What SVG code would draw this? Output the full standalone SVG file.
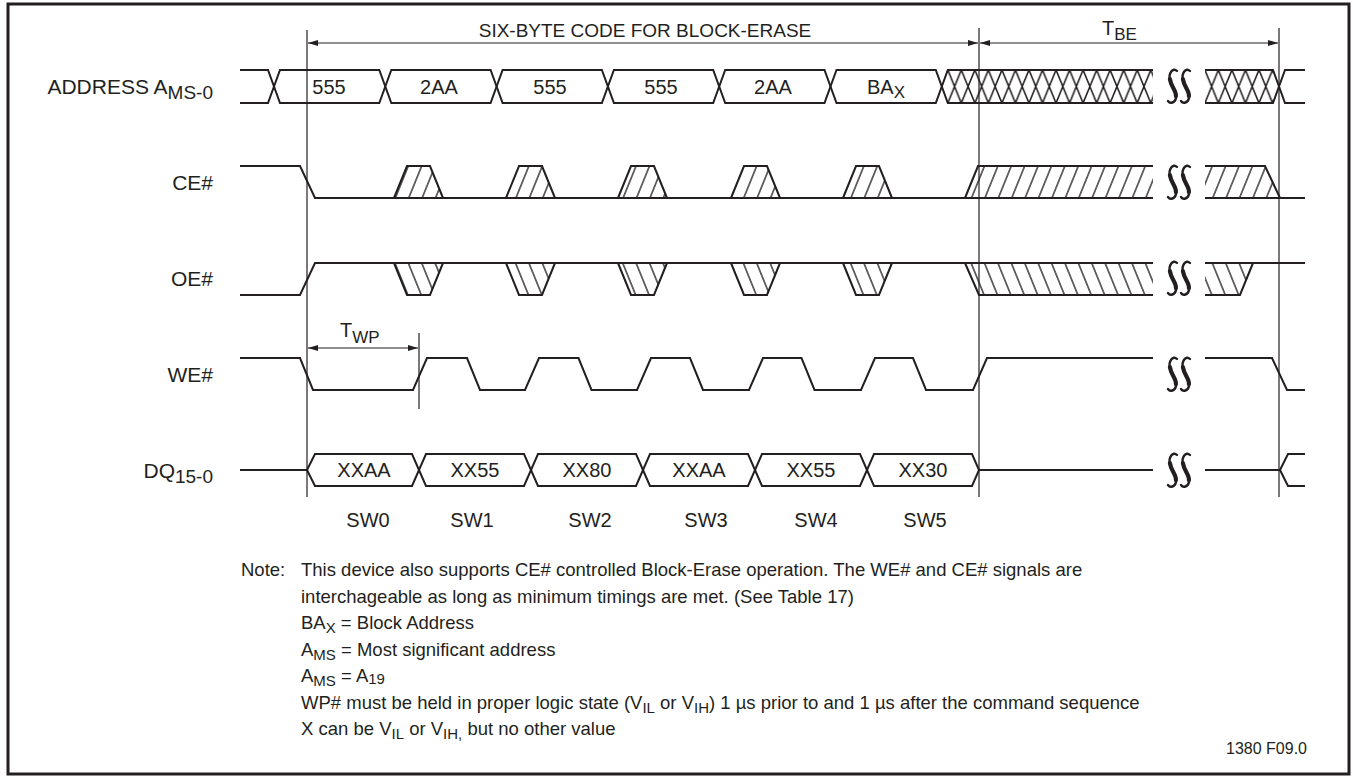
<svg xmlns="http://www.w3.org/2000/svg" xmlns:xlink="http://www.w3.org/1999/xlink" width="1353" height="776" viewBox="0 0 1353 776">
<style>
text { font-family: "Liberation Sans", Arial, Helvetica, sans-serif; fill: #231f20; }
.lbl { font-size: 21px; text-anchor: end; }
.val { font-size: 20px; text-anchor: middle; }
.ttl { font-size: 19px; text-anchor: middle; }
.note { font-size: 18.5px; }
.sub { font-size: 15px; }
.sig { fill: none; stroke: #231f20; stroke-width: 2; stroke-linejoin: miter; }
.ref { fill: none; stroke: #231f20; stroke-width: 1.2; }
.dim { fill: none; stroke: #231f20; stroke-width: 1.2; marker-start: url(#ah); marker-end: url(#ah); }
.brk { fill: none; stroke: #231f20; stroke-width: 2.4; stroke-linecap: round; }
.brkm { fill: none; stroke: #231f20; stroke-width: 4.2; stroke-linecap: round; }
.hf { fill: url(#hf); stroke: none; }
.hb { fill: url(#hb); stroke: none; }
.xx { fill: url(#xp); stroke: none; }
</style>
<defs>
  <marker id="ah" viewBox="0 0 10 6" refX="10" refY="3" markerWidth="10" markerHeight="6" markerUnits="userSpaceOnUse" orient="auto-start-reverse">
    <path d="M0,0 L10,3 L0,6 Z" fill="#231f20"/>
  </marker>
  <pattern id="hf" patternUnits="userSpaceOnUse" x="0" y="0" width="13.4" height="64" patternTransform="skewX(-22.1)">
    <rect x="6" y="0" width="1.4" height="64" fill="#231f20"/>
  </pattern>
  <pattern id="hb" patternUnits="userSpaceOnUse" x="0" y="0" width="13.4" height="64" patternTransform="skewX(22.1)">
    <rect x="6" y="0" width="1.4" height="64" fill="#231f20"/>
  </pattern>
  <pattern id="xp" patternUnits="userSpaceOnUse" x="947.8" y="70" width="13.53" height="33">
    <path d="M0,0 L13.53,33 M0,33 L13.53,0" stroke="#231f20" stroke-width="1.6" fill="none"/>
  </pattern>
  <g id="ss">
    <path class="brk" d="M-2.5,-15 C-6.5,-19 -11.5,-13 -9.5,-5 C-7.5,2 -2.5,6 -3.5,12 C-4.5,17 -9.5,18 -11.5,15"/>
    <path class="brkm" d="M-9.6,-7 C-8.5,1 -3,5 -3.6,10"/>
    <path class="brk" d="M10.5,-15 C6.5,-19 1.5,-13 3.5,-5 C5.5,2 10.5,6 9.5,12 C8.5,17 3.5,18 1.5,15"/>
    <path class="brkm" d="M3.4,-7 C4.5,1 10,5 9.4,10"/>
  </g>
</defs>

<rect x="8" y="4" width="1341" height="770" fill="#ffffff" stroke="#231f20" stroke-width="3"/>

<g id="title">
  <text class="ttl" x="645" y="37">SIX-BYTE CODE FOR BLOCK-ERASE</text>
  <text x="1102" y="35" style="font-size:20px">T<tspan dy="5" style="font-size:17px">BE</tspan></text>
</g>

<g id="sig-address">
  <text class="lbl" x="213" y="94">ADDRESS A<tspan dy="5" style="font-size:19px">MS-0</tspan></text>
  <rect class="xx" x="947.8" y="70" width="205.2" height="33"/>
  <rect class="xx" x="1205" y="70" width="68" height="33"/>
  <path class="sig" d="M240,70 H268 L280,103 H379.3 L391.3,70 H490.6 L502.6,103 H601.9 L613.9,70 H713.2 L725.2,103 H824.5 L836.5,70 H935.8 L947.8,103 H1153"/>
  <path class="sig" d="M240,103 H268 L280,70 H379.3 L391.3,103 H490.6 L502.6,70 H601.9 L613.9,103 H713.2 L725.2,70 H824.5 L836.5,103 H935.8 L947.8,70 H1153"/>
  <path class="sig" d="M1205,70 H1273 L1285,103 H1305 M1205,103 H1273 L1285,70 H1305"/>
  <text class="val" x="329" y="94">555</text>
  <text class="val" x="439" y="94">2AA</text>
  <text class="val" x="550" y="94">555</text>
  <text class="val" x="661" y="94">555</text>
  <text class="val" x="773" y="94">2AA</text>
  <text class="val" x="886" y="94">BA<tspan dy="4" style="font-size:17px">X</tspan></text>
  <use xlink:href="#ss" x="1179.5" y="86"/>
</g>

<g id="sig-ce">
  <text class="lbl" x="213" y="190">CE#</text>
  <polygon class="hf" points="394,198 407,166 430,166 443,198"/>
  <polygon class="hf" points="506,198 519,166 542,166 555,198"/>
  <polygon class="hf" points="618,198 631,166 654,166 667,198"/>
  <polygon class="hf" points="731,198 744,166 767,166 780,198"/>
  <polygon class="hf" points="843,198 856,166 879,166 892,198"/>
  <polygon class="hf" points="965,198 978,166 1153,166 1153,198"/>
  <polygon class="hf" points="1205,198 1205,166 1265,166 1280,198"/>
  <path class="sig" d="M240,166 H300 L315,198 H1153"/>
  <path class="sig" d="M394,198 L407,166 H430 L443,198 M506,198 L519,166 H542 L555,198 M618,198 L631,166 H654 L667,198 M731,198 L744,166 H767 L780,198 M843,198 L856,166 H879 L892,198"/>
  <path class="sig" d="M965,198 L978,166 H1153"/>
  <path class="sig" d="M1205,198 H1305 M1205,166 H1265 L1280,198"/>
  <use xlink:href="#ss" x="1179.5" y="182"/>
</g>

<g id="sig-oe">
  <text class="lbl" x="213" y="286">OE#</text>
  <polygon class="hb" points="394,263 407,295 430,295 443,263"/>
  <polygon class="hb" points="506,263 519,295 542,295 555,263"/>
  <polygon class="hb" points="618,263 631,295 654,295 667,263"/>
  <polygon class="hb" points="731,263 744,295 767,295 780,263"/>
  <polygon class="hb" points="843,263 856,295 879,295 892,263"/>
  <polygon class="hb" points="965,263 979,295 1153,295 1153,263"/>
  <polygon class="hb" points="1205,263 1205,295 1240,295 1253,263"/>
  <path class="sig" d="M240,295 H300 L315,263 H1153"/>
  <path class="sig" d="M394,263 L407,295 H430 L443,263 M506,263 L519,295 H542 L555,263 M618,263 L631,295 H654 L667,263 M731,263 L744,295 H767 L780,263 M843,263 L856,295 H879 L892,263"/>
  <path class="sig" d="M965,263 L979,295 H1153"/>
  <path class="sig" d="M1205,263 H1305 M1205,295 H1240 L1253,263"/>
  <use xlink:href="#ss" x="1179.5" y="278"/>
</g>

<g id="sig-we">
  <text class="lbl" x="213" y="382">WE#</text>
  <path class="sig" d="M240,358 H300 L313,390 H413 L427,358 H467 L480,390 H525 L539,358 H578.5 L591.5,390 H637 L651,358 H690 L703,390 H749 L763,358 H801.5 L814.5,390 H861 L875,358 H913 L926,390 H973 L987,358 H1153"/>
  <path class="sig" d="M1205,358 H1272 L1287,390 H1305"/>
  <use xlink:href="#ss" x="1179.5" y="374"/>
</g>

<g id="sig-dq">
  <text class="lbl" x="213" y="478">DQ<tspan dy="5" style="font-size:19px">15-0</tspan></text>
  <path class="sig" d="M240,470 H307 L315,454 H412 L426,486 H524 L538,454 H636 L650,486 H748 L762,454 H860 L874,486 H972 L979,470 H1153"/>
  <path class="sig" d="M307,470 L315,486 H412 L426,454 H524 L538,486 H636 L650,454 H748 L762,486 H860 L874,454 H972 L979,470"/>
  <path class="sig" d="M1205,470 H1280 L1288,454 H1305 M1280,470 L1288,486 H1305"/>
  <text class="val" x="364" y="477">XXAA</text>
  <text class="val" x="475" y="477">XX55</text>
  <text class="val" x="587" y="477">XX80</text>
  <text class="val" x="699" y="477">XXAA</text>
  <text class="val" x="811" y="477">XX55</text>
  <text class="val" x="923" y="477">XX30</text>
  <use xlink:href="#ss" x="1179.5" y="470"/>
</g>

<g id="connectors">
  <line class="ref" x1="307" y1="30" x2="307" y2="497"/>
  <line class="ref" x1="979" y1="28" x2="979" y2="497"/>
  <line class="ref" x1="1279" y1="28" x2="1279" y2="497"/>
  <line class="ref" x1="419" y1="333" x2="419" y2="409"/>
  <line class="dim" x1="308" y1="43" x2="978" y2="43"/>
  <line class="dim" x1="980" y1="43" x2="1278" y2="43"/>
  <line class="dim" x1="308" y1="348" x2="418" y2="348"/>
  <text x="340" y="337" style="font-size:20px">T<tspan dy="6" style="font-size:17px">WP</tspan></text>
</g>

<g id="steps">
  <text class="val" x="368" y="527">SW0</text>
  <text class="val" x="472" y="527">SW1</text>
  <text class="val" x="590" y="527">SW2</text>
  <text class="val" x="706" y="527">SW3</text>
  <text class="val" x="816" y="527">SW4</text>
  <text class="val" x="925" y="527">SW5</text>
</g>

<g id="notes">
  <text class="note" x="241" y="576">Note:</text>
  <text class="note" x="301" y="576">This device also supports CE# controlled Block-Erase operation. The WE# and CE# signals are</text>
  <text class="note" x="301" y="602.5">interchageable as long as minimum timings are met. (See Table 17)</text>
  <text class="note" x="301" y="629">BA<tspan class="sub" dy="4">X</tspan><tspan dy="-4"> = Block Address</tspan></text>
  <text class="note" x="301" y="655.5">A<tspan class="sub" dy="4">MS</tspan><tspan dy="-4"> = Most significant address</tspan></text>
  <text class="note" x="301" y="682">A<tspan class="sub" dy="4">MS</tspan><tspan dy="-4"> = A</tspan><tspan class="sub" dy="2">19</tspan></text>
  <text class="note" x="301" y="708.5">WP# must be held in proper logic state (V<tspan class="sub" dy="4">IL</tspan><tspan dy="-4"> or V</tspan><tspan class="sub" dy="4">IH</tspan><tspan dy="-4">) 1 µs prior to and 1 µs after the command sequence</tspan></text>
  <text class="note" x="301" y="735">X can be V<tspan class="sub" dy="4">IL</tspan><tspan dy="-4"> or V</tspan><tspan class="sub" dy="4">IH,</tspan><tspan dy="-4"> but no other value</tspan></text>
  <text x="1307" y="754" style="font-size:16px;text-anchor:end">1380 F09.0</text>
</g>
</svg>
